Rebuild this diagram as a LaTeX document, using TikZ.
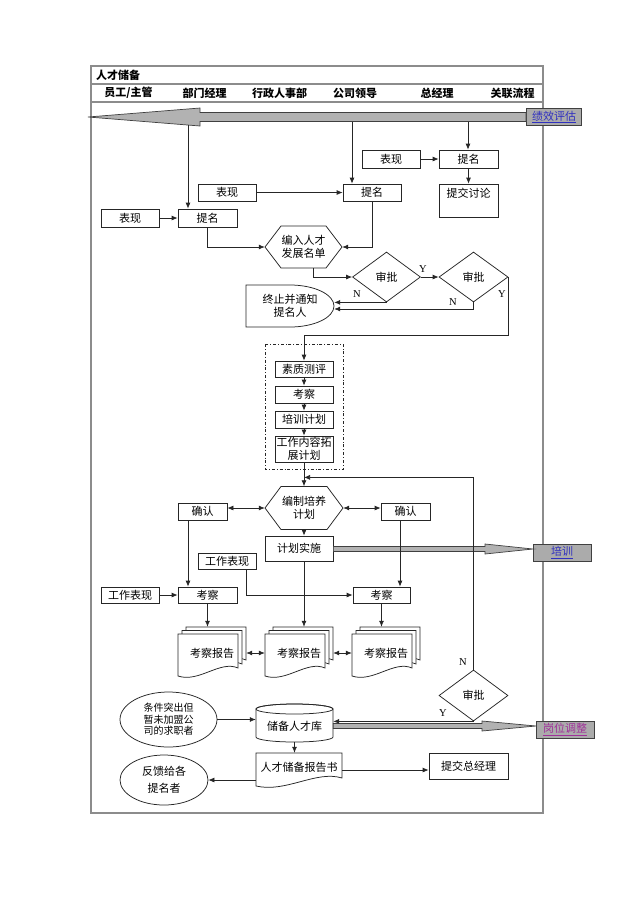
\documentclass[tikz,border=0pt]{standalone}
\usepackage{fontspec}
\setmainfont{Liberation Serif}
\newfontfamily\cjk{Noto Sans CJK SC}
\usetikzlibrary{shapes.geometric,arrows.meta,calc}
\pgfdeclarelayer{lanes}
\pgfdeclarelayer{bg}
\pgfsetlayers{lanes,bg,main}
\definecolor{linkblue}{HTML}{3030C0}
\definecolor{linkpurple}{HTML}{A0309A}
\newcommand{\docpath}[4]{({#1},{#2}) -- ({#3},{#2}) -- ({#3},{#4-8}) .. controls ({#3-0.3*(#3-#1)},{#4-16}) and ({#1+0.35*(#3-#1)},{#4+7}) .. ({#1},{#4}) -- cycle}
\newcommand{\hexpath}[4]{({#1-#3/2},{#2}) -- ({#1-#3/2+16},{#2-#4/2}) -- ({#1+#3/2-16},{#2-#4/2}) -- ({#1+#3/2},{#2}) -- ({#1+#3/2-16},{#2+#4/2}) -- ({#1-#3/2+16},{#2+#4/2}) -- cycle}
\begin{document}
\begin{tikzpicture}[x=1pt,y=-1pt,
 ln/.style={draw=black!85, line width=0.75pt},
 arr/.style={ln, -{Latex[length=6pt,width=5pt]}},
 darr/.style={ln, {Latex[length=6pt,width=5pt]}-{Latex[length=6pt,width=5pt]}},
 boxt/.style={inner sep=0pt, align=center, font=\cjk\fontsize{11}{12.5}\selectfont},
 box/.style={boxt, draw=black!85, line width=0.75pt, fill=white},
 dia/.style={box, diamond, minimum width=68pt, minimum height=50pt},
 yn/.style={inner sep=0pt, font=\fontsize{10.5}{12}\selectfont},
 hdr/.style={inner sep=0pt, font=\cjk\bfseries\fontsize{11}{13}\selectfont},
 link/.style={draw=black!75, fill=black!33, line width=0.9pt, minimum width=55pt, minimum height=17pt, inner sep=0pt, font=\cjk\fontsize{11}{13}\selectfont},
 fat/.style={draw=black!75, fill=black!30, line width=0.7pt},
 frameln/.style={draw=black!45, line width=1.1pt},
 laneln/.style={draw=black!18, line width=0.8pt}]
\fill[white] (0,0) rectangle (640,906);
\useasboundingbox (0,0) rectangle (640,906);

% ---------- frame and lanes ----------
\begin{pgfonlayer}{lanes}
\foreach \x in {167,242,317,392,482} {
  \draw[laneln] (\x,102) -- (\x,813);
  \draw[frameln] (\x,84) -- (\x,102);
}
\end{pgfonlayer}
\draw[frameln] (91,66) rectangle (543,813);
\draw[frameln] (91,84) -- (543,84);
\draw[frameln] (91,102) -- (543,102);

\node[hdr, anchor=west] (title) at (96,75.5) {人才储备};
\node[hdr] (h1) at (128.5,93) {员工/主管};
\node[hdr] (h2) at (204.5,93) {部门经理};
\node[hdr] (h3) at (279.5,93) {行政人事部};
\node[hdr] (h4) at (355,93) {公司领导};
\node[hdr] (h5) at (437,93) {总经理};
\node[hdr] (h6) at (512.5,93) {关联流程};

% ---------- big arrow: performance evaluation ----------
\node[link] (jx) at (554,117) {\color{linkblue}\underline{绩效评估}};
\filldraw[fat] ($(jx.west)+(0,-4.5)$) -- (200,112.5) -- (200,108) -- (88,117) -- (200,126) -- (200,121.5) -- ($(jx.west)+(0,4.5)$) -- cycle;
\coordinate (pa1) at (468,121.5);
\coordinate (pa2) at (352,121.5);
\coordinate (pa3) at (188,125);

% ---------- nomination ----------
\node[box, minimum width=58pt, minimum height=18pt] (hx1) at (391,159) {表现};
\node[box, minimum width=59pt, minimum height=18pt] (tm1) at (468.5,159) {提名};
\node[box, minimum width=59pt, minimum height=33pt, text height=13pt, text depth=20pt] (tj) at (468.5,200.5) {提交讨论};
\node[box, minimum width=58pt, minimum height=17pt] (ld) at (372,192.5) {提名};
\node[box, minimum width=58pt, minimum height=17pt] (hx2) at (227,192.5) {表现};
\node[box, minimum width=59pt, minimum height=18pt] (dm) at (207.5,218) {提名};
\node[box, minimum width=58pt, minimum height=18pt] (hx3) at (130,218) {表现};

\filldraw[ln, fill=white] \hexpath{303.5}{247}{77}{42};
\node[boxt, minimum width=77pt, minimum height=42pt] (hex1) at (303.5,247) {编入人才\\发展名单};

\node[dia] (D1) at (386.5,277) {审批};
\node[dia, minimum width=69pt] (D2) at (473.5,277) {审批};

\filldraw[ln, fill=white] (246,285) -- (290,285) arc[start angle=-90, end angle=90, x radius=44, y radius=21] -- (246,327) -- cycle;
\node[boxt, minimum width=88pt, minimum height=42pt] (term) at (290,306) {终止并通知\\提名人};

\draw[arr] (pa1) -- (pa1 |- tm1.north);
\draw[arr] (pa2) -- (pa2 |- ld.north);
\draw[arr] (pa3) -- (pa3 |- dm.north);
\draw[arr] (hx1) -- (tm1);
\draw[arr] (tm1) -- (tj);
\draw[arr] (hx2) -- (ld);
\draw[arr] (hx3) -- (dm);
\draw[arr] (dm.south) |- (hex1.west);
\draw[arr] (ld.south) |- (hex1.east);
\coordinate (h1b) at ($(hex1.south)+(10,0)$);
\draw[arr] (h1b) |- (D1.west);
\draw[arr] (D1.east) -- (D2.west);
\draw[arr] (D1.south) -- (D1.south -| term.east);
\coordinate (tme) at ($(term.east)+(0,3)$);
\draw[arr] (D2.south) |- (tme);

\node[yn] (y1) at (423,269) {Y};
\node[yn] (n1) at (357,294) {N};
\node[yn] (n2) at (453,302) {N};
\node[yn] (y2) at (502,294) {Y};

% ---------- assessment block ----------
\draw[draw=black!85, line width=0.75pt, dash dot] (265,344) rectangle (343,469);
\node[box, minimum width=58pt, minimum height=16pt] (sz) at (304,369) {素质测评};
\node[box, minimum width=58pt, minimum height=17pt] (kc) at (304,394.5) {考察};
\node[box, minimum width=58pt, minimum height=17pt] (px) at (304,419.5) {培训计划};
\node[box, minimum width=58pt, minimum height=26pt] (gz) at (304,449) {工作内容拓\\展计划};
\draw[arr] (D2.east) -- ++(0,58) -| (sz.north);
\draw[arr] (sz) -- (kc);
\draw[arr] (kc) -- (px);
\draw[arr] (px) -- (gz);

% ---------- training plan ----------
\filldraw[ln, fill=white] \hexpath{304}{508}{78}{43};
\node[boxt, minimum width=78pt, minimum height=43pt] (hex2) at (304,508) {编制培养\\计划};
\node[box, minimum width=49pt, minimum height=17pt] (qr1) at (202.5,511.5) {确认};
\node[box, minimum width=49pt, minimum height=17pt] (qr2) at (405.5,511.5) {确认};
\node[box, minimum width=68pt, minimum height=25pt] (jh) at (299,548.5) {计划实施};
\node[link, minimum width=58pt] (pxl) at (562,552.5) {\color{linkblue}\underline{培训}};
\filldraw[fat] ($(jh.east)+(0,-2)$) -- (485,546.5) -- (485,544) -- (533,549) -- (485,554) -- (485,551.5) -- ($(jh.east)+(0,3)$) -- cycle;

\node[box, minimum width=58pt, minimum height=16pt] (gb1) at (227,561.5) {工作表现};
\node[box, minimum width=58pt, minimum height=16pt] (gb2) at (130,595) {工作表现};
\node[box, minimum width=59pt, minimum height=16pt] (kl) at (207.5,595) {考察};
\node[box, minimum width=57pt, minimum height=16pt] (kr) at (381.5,595) {考察};

\draw[arr] (gz.south) -- (hex2.north);
\draw[darr] (qr1.east |- hex2.west) -- (hex2.west);
\draw[darr] (hex2.east) -- (qr2.west |- hex2.east);
\draw[arr] (hex2.south) -- (hex2.south |- jh.north);
\coordinate (q1b) at ($(qr1.south)+(-14.5,0)$);
\coordinate (q2b) at ($(qr2.south)+(-5.5,0)$);
\coordinate (g1b) at ($(gb1.south)+(19,0)$);
\draw[arr] (q1b) -- (q1b |- kl.north);
\draw[arr] (q2b) -- (q2b |- kr.north);
\draw[arr] (gb2) -- (kl);
\draw[arr] (g1b) |- (kr.west);

% ---------- reports ----------
\filldraw[ln, fill=white] \docpath{186}{627}{246}{668};
\filldraw[ln, fill=white] \docpath{182}{630.5}{242}{672};
\filldraw[ln, fill=white] \docpath{178}{634}{238}{676};
\filldraw[ln, fill=white] \docpath{273}{627}{333}{668};
\filldraw[ln, fill=white] \docpath{269}{630.5}{329}{672};
\filldraw[ln, fill=white] \docpath{265}{634}{325}{676};
\filldraw[ln, fill=white] \docpath{360}{627}{420}{668};
\filldraw[ln, fill=white] \docpath{356}{630.5}{416}{672};
\filldraw[ln, fill=white] \docpath{352}{634}{412}{676};
\node[boxt, minimum width=68pt, minimum height=52pt] (r1) at (212,653) {考察报告};
\node[boxt, minimum width=68pt, minimum height=52pt] (r2) at (299,653) {考察报告};
\node[boxt, minimum width=68pt, minimum height=52pt] (r3) at (386,653) {考察报告};
\draw[arr] (kl.south) -- (kl.south |- r1.north);
\draw[arr] (hex2.south |- jh.south) -- (hex2.south |- r2.north);
\draw[arr] (kr.south) -- (kr.south |- r3.north);
\draw[darr] (r1.east) -- (r2.west);
\draw[darr] (r2.east) -- (r3.west);

\node[dia, minimum width=69pt, minimum height=51pt] (D3) at (473.5,695.5) {审批};
\coordinate (rb1) at ($(r1.center)+(15,0)$);
\coordinate (rb2) at ($(r2.center)+(24,0)$);
\coordinate (rb3) at ($(r3.center)+(15,0)$);
\begin{pgfonlayer}{bg}
\draw[arr] (rb1) |- (D3.west);
\draw[ln] (rb2) -- (rb2 |- D3.west);
\draw[ln] (rb3) -- (rb3 |- D3.west);
\end{pgfonlayer}
\coordinate (d3t) at ($(gz.south)+(0,15)$);
\draw[arr] (D3.north) |- (d3t);
\node[yn] (n3) at (463,662) {N};
\node[yn] (y3) at (443,713) {Y};

% ---------- reserve pool ----------
\filldraw[ln, fill=white] (256,709) -- (256,737) arc[start angle=180, end angle=0, x radius=38.5, y radius=5] -- (333,709) arc[start angle=0, end angle=-180, x radius=38.5, y radius=5] -- cycle;
\draw[ln] (294.5,709) ellipse [x radius=38.5, y radius=5];
\node[boxt, minimum width=77pt, minimum height=38pt, text height=26pt, text depth=12pt] (cyl) at (294.5,723) {储备人才库};

\node[link, minimum width=58pt] (gw) at (565,729.5) {\color{linkpurple}\underline{岗位调整}};
\filldraw[fat] ($(cyl.east)+(0,0.5)$) -- (482,723.5) -- (482,721) -- (536,726) -- (482,731) -- (482,728.5) -- ($(cyl.east)+(0,5.5)$) -- cycle;
\draw[arr] (D3.south) -- (D3.south -| cyl.east);

\node[box, ellipse, minimum width=97pt, minimum height=55pt, font=\cjk\fontsize{10}{11.5}\selectfont] (el1) at (168.5,719.5) {条件突出但\\暂未加盟公\\司的求职者};
\draw[arr] (el1.east) -- (el1.east -| cyl.west);

\filldraw[ln, fill=white] \docpath{256}{753}{342}{786};
\node[boxt, minimum width=86pt, minimum height=33pt, text height=18pt, text depth=15pt] (rb) at (299,769.5) {人才储备报告书};
\node[box, minimum width=79pt, minimum height=26pt] (tj2) at (468.5,766) {提交总经理};
\node[box, ellipse, minimum width=88pt, minimum height=50pt] (el2) at (164,780) {反馈给各\\[5pt]提名者};
\draw[arr] (cyl.south) -- (cyl.south |- rb.north);
\coordinate (rbr) at ($(rb.east)+(0,0.5)$);
\coordinate (rbl) at ($(rb.west)+(0,10.5)$);
\draw[arr] (rbr) -- (rbr -| tj2.west);
\draw[arr] (rbl) -- (rbl -| el2.east);
\end{tikzpicture}
\end{document}
